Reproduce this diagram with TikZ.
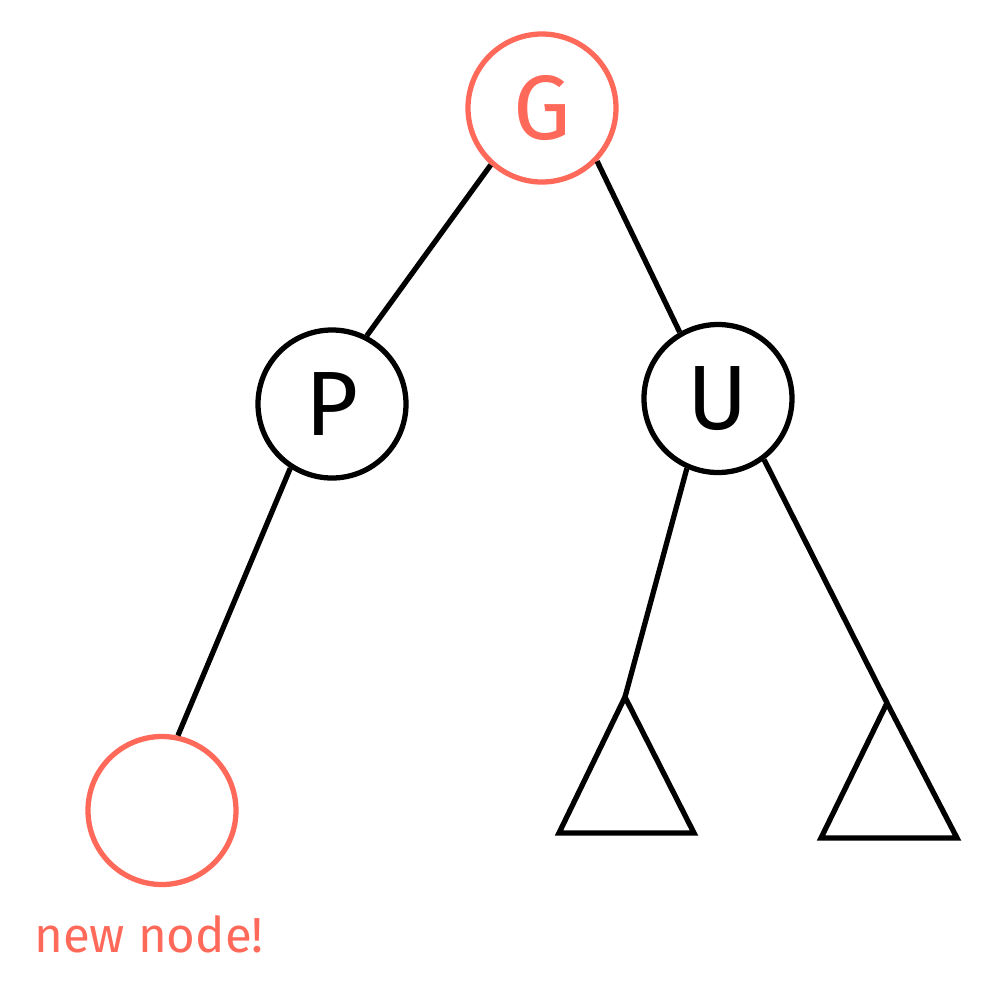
\documentclass[tikz,border=0pt]{standalone}
\usepackage{fontspec}
\setmainfont{Fira Sans}
\usepackage{tikz}
\usetikzlibrary{positioning}
\definecolor{salmon}{RGB}{255,105,90}
\definecolor{inkblack}{RGB}{0,0,0}
\tikzset{
  treenode/.style={circle,draw=inkblack,line width=1.5pt,minimum size=1.48cm,inner sep=0pt,font=\fontsize{26}{26}\selectfont},
  hotnode/.style={treenode,draw=salmon,text=salmon},
  edge/.style={draw=inkblack,line width=1.5pt},
  subtree/.style={draw=inkblack,line width=1.5pt,line join=miter},
  note/.style={text=salmon,font=\fontsize{14}{14}\selectfont}
}
\begin{document}
\begin{tikzpicture}
  \useasboundingbox (0,0) rectangle (10,-10.01);
  % nodes
  \node[hotnode] (grand) at (5.42,-1.08) {G};
  \node[treenode] (parent) at (3.32,-4.04) {P};
  \node[treenode] (uncle) at (7.18,-3.985) {U};
  \node[hotnode] (newnode) at (1.62,-8.105) {};
  \node[note,below=0.16cm of newnode,xshift=-0.13cm] (newlabel) {new node!};
  % subtrees under U
  \coordinate (ltop) at (6.25,-6.97);
  \coordinate (rtop) at (8.87,-7.03);
  \draw[subtree] (ltop) -- (5.59,-8.33) -- (6.94,-8.33) -- cycle;
  \draw[subtree] (rtop) -- (8.21,-8.38) -- (9.57,-8.38) -- cycle;
  % edges
  \draw[edge] (grand.-132) -- (parent.63);
  \draw[edge] (grand.-44) -- (uncle.120);
  \draw[edge] (parent.-123) -- (newnode.78);
  \draw[edge] (uncle.-114) -- (ltop);
  \draw[edge] (uncle.-53) -- (rtop);
\end{tikzpicture}
\end{document}
